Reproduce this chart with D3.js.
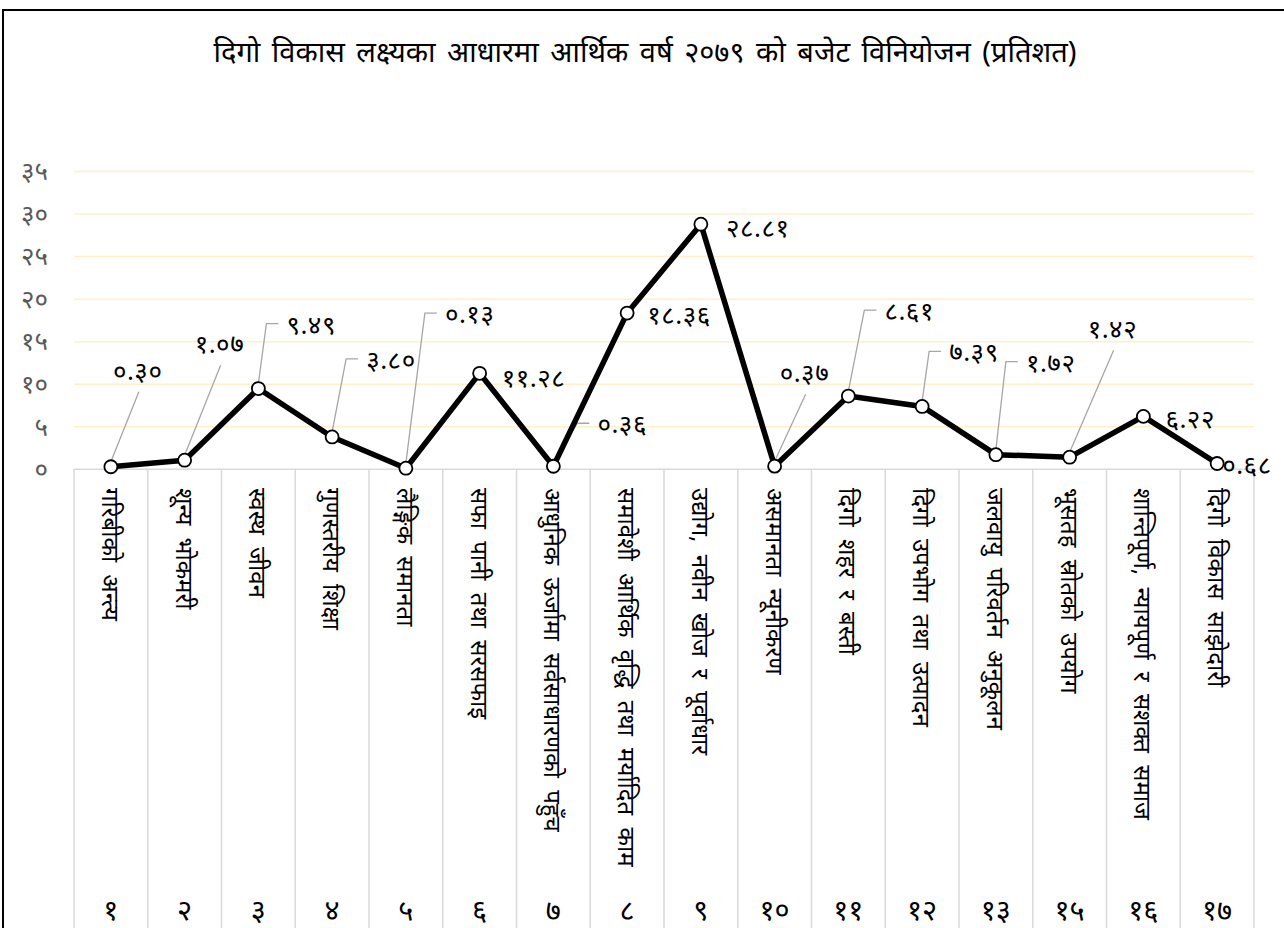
<!DOCTYPE html>
<html>
<head>
<meta charset="utf-8">
<script src="https://cdn.jsdelivr.net/npm/d3@7"></script>
<style>
  body { margin: 0; background: #fff; }
  svg text { font-family: "Noto Sans", "Noto Sans Devanagari", "Lohit Devanagari", "FreeSans", sans-serif; }
</style>
</head>
<body>
<div id="chart"></div>
<script>
// SDG codes shown at the bottom of the table
const goalCodes = ["१", "२", "३", "४", "५", "६", "७", "८", "९", "१०", "११", "१२", "१३", "१५", "१६", "१७"];

// Goal names (rotated category labels)
const goalNames = [
    "गरिबीको अन्त्य",
    "शून्य भोकमरी",
    "स्वस्थ जीवन",
    "गुणस्तरीय शिक्षा",
    "लैङ्गिक समानता",
    "सफा पानी तथा सरसफाइ",
    "आधुनिक ऊर्जामा सर्वसाधारणको पहुँच",
    "समावेशी आर्थिक वृद्धि तथा मर्यादित काम",
    "उद्योग, नवीन खोज र पूर्वाधार",
    "असमानता न्यूनीकरण",
    "दिगो शहर र बस्ती",
    "दिगो उपभोग तथा उत्पादन",
    "जलवायु परिवर्तन अनुकूलन",
    "भूसतह स्रोतको उपयोग",
    "शान्तिपूर्ण, न्यायपूर्ण र सशक्त समाज",
    "दिगो विकास साझेदारी"
];

// Budget share (percent)
const budgetShare = [0.30, 1.07, 9.49, 3.80, 0.13, 11.28, 0.36, 18.36, 28.81, 0.37, 8.61, 7.39, 1.72, 1.42, 6.22, 0.68];

const yTicks = [0, 5, 10, 15, 20, 25, 30, 35];

// Data label placement relative to each point: [dx, dy, leader style]
const labelOffsets = [
    [2, -97, "straight"], [10, -117, "straight"], [28, -65, "elbow"], [34, -78, "elbow"],
    [39, -155, "elbow"], [22, 4, "none"], [44, -43, "elbow"], [20, 1, "none"],
    [25, 3, "none"], [5, -94, "straight"], [36, -86, "elbow"], [27, -55, "elbow"],
    [30, -93, "elbow"], [18, -129, "straight"], [22, 2, "none"], [5, 0, "none"]
];

const width = 1284;
const height = 928;

const devDigits = "०१२३४५६७८९";
const toNepali = s => String(s).replace(/[0-9]/g, d => devDigits[+d]);

const svg = d3.select("#chart")
    .append("svg")
    .attr("width", width)
    .attr("height", height);

// Outer chart frame
svg.append("rect")
    .attr("x", 3)
    .attr("y", 10)
    .attr("width", width + 10)
    .attr("height", height + 10)
    .attr("fill", "none")
    .attr("stroke", "#000")
    .attr("stroke-width", 2);

const x = d3.scaleBand()
    .domain(goalCodes)
    .range([74, 1254]);

const y = d3.scaleLinear()
    .domain([0, 35])
    .range([469.3, 171.5]);

// Horizontal gridlines
svg.append("g")
    .selectAll("line")
    .data(yTicks.filter(t => t > 0))
    .join("line")
    .attr("x1", 74)
    .attr("x2", 1254)
    .attr("y1", d => y(d))
    .attr("y2", d => y(d))
    .attr("stroke", "#FFF0C8")
    .attr("stroke-width", 1.5);

// Y axis labels
const yAxis = svg.append("g")
    .attr("transform", "translate(48,0)")
    .call(d3.axisLeft(y).tickValues(yTicks).tickSize(0).tickPadding(0).tickFormat(d => toNepali(d)));
yAxis.select(".domain").remove();
yAxis.selectAll("text")
    .attr("fill", "#595959")
    .style("font-size", "26px");

// Category table: top line and vertical separators
const table = svg.append("g");
table.append("line")
    .attr("x1", 74).attr("x2", 1254)
    .attr("y1", y(0)).attr("y2", y(0))
    .attr("stroke", "#D9D9D9")
    .attr("stroke-width", 1.5);
table.selectAll("line.sep")
    .data(goalCodes.concat(["end"]))
    .join("line")
    .attr("class", "sep")
    .attr("x1", (d, i) => 74 + i * x.bandwidth())
    .attr("x2", (d, i) => 74 + i * x.bandwidth())
    .attr("y1", y(0))
    .attr("y2", height)
    .attr("stroke", "#D9D9D9")
    .attr("stroke-width", 1.5);

// Rotated goal names
table.selectAll("text.name")
    .data(goalNames)
    .join("text")
    .attr("class", "name")
    .attr("transform", (d, i) => `translate(${x(goalCodes[i]) + x.bandwidth() / 2 - 9}, 488) rotate(90)`)
    .attr("text-anchor", "start")
    .style("font-size", "24px")
    .style("word-spacing", "6px")
    .attr("fill", "#000")
    .text(d => d);

// Goal codes
table.selectAll("text.code")
    .data(goalCodes)
    .join("text")
    .attr("class", "code")
    .attr("x", d => x(d) + x.bandwidth() / 2)
    .attr("y", 920)
    .attr("text-anchor", "middle")
    .style("font-size", "29px")
    .attr("fill", "#000")
    .text(d => d);

const points = budgetShare.map((v, i) => ({
    v: v,
    px: x(goalCodes[i]) + x.bandwidth() / 2,
    py: y(v),
    off: labelOffsets[i]
}));

// Leader lines
const leaders = svg.append("g");
points.forEach(p => {
    const [dx, dy, style] = p.off;
    const lx = p.px + dx;
    const ly = p.py + dy;
    if (style === "straight") {
        leaders.append("line")
            .attr("x1", lx + 26).attr("y1", ly + 22)
            .attr("x2", p.px).attr("y2", p.py - 5)
            .attr("stroke", "#A6A6A6").attr("stroke-width", 1.3);
    } else if (style === "elbow") {
        leaders.append("polyline")
            .attr("points", `${lx - 8},${ly} ${lx - 20},${ly} ${p.px},${p.py - 5}`)
            .attr("fill", "none")
            .attr("stroke", "#A6A6A6").attr("stroke-width", 1.3);
    }
});

// Line
svg.append("path")
    .datum(points)
    .attr("fill", "none")
    .attr("stroke", "#000")
    .attr("stroke-width", 5.5)
    .attr("stroke-linejoin", "round")
    .attr("d", d3.line().x(d => d.px).y(d => d.py));

// Markers
svg.append("g")
    .selectAll("circle")
    .data(points)
    .join("circle")
    .attr("cx", d => d.px)
    .attr("cy", d => d.py)
    .attr("r", 6.5)
    .attr("fill", "#fff")
    .attr("stroke", "#000")
    .attr("stroke-width", 1.8);

// Data labels
svg.append("g")
    .selectAll("text")
    .data(points)
    .join("text")
    .attr("x", d => d.px + d.off[0])
    .attr("y", d => d.py + d.off[1])
    .attr("dominant-baseline", "central")
    .style("font-size", "26px")
    .style("letter-spacing", "0.5px")
    .attr("fill", "#000")
    .text(d => toNepali(d.v.toFixed(2)));

// Chart title
svg.append("text")
    .attr("x", 645)
    .attr("y", 50)
    .attr("text-anchor", "middle")
    .attr("dominant-baseline", "central")
    .style("font-size", "29px")
    .style("word-spacing", "4px")
    .attr("fill", "#000")
    .text("दिगो विकास लक्ष्यका आधारमा आर्थिक वर्ष २०७९ को बजेट विनियोजन (प्रतिशत)");
</script>
</body>
</html>
